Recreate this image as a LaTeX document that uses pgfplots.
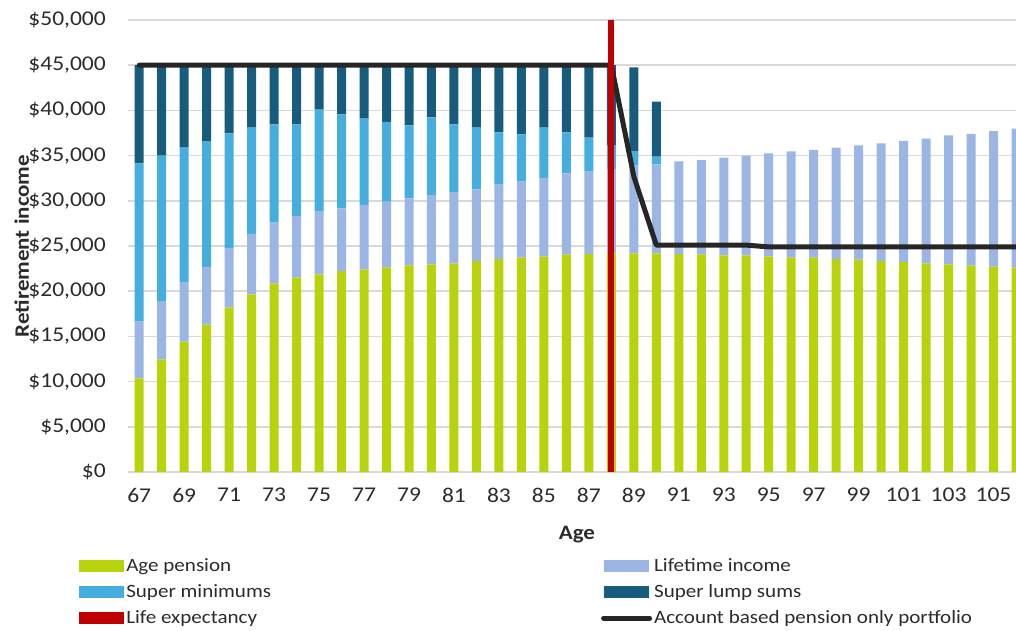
\documentclass[border=0pt]{standalone}
\usepackage{fontspec}
\setmainfont{Carlito}[FakeStretch=1.12]
\usepackage{pgfplots}
\usepackage{pgfplotstable}
\pgfplotsset{compat=1.18}
\definecolor{apgreen}{HTML}{B8D30B}
\definecolor{liblue}{HTML}{9BB5E4}
\definecolor{smblue}{HTML}{45AEDE}
\definecolor{lsblue}{HTML}{175C7D}
\definecolor{lered}{HTML}{C00000}
\definecolor{abpblack}{HTML}{262626}
\definecolor{gridgray}{HTML}{D9D9D9}
\definecolor{txt}{HTML}{2B2B2B}
\pgfplotstableread{
age ap li sm ls
67 10360 6270 17510 10860
68 12460 6440 16100 10000
69 14420 6600 14860 9120
70 16300 6400 13900 8400
71 18180 6520 12760 7540
72 19650 6680 11760 6910
73 20870 6710 10880 6540
74 21500 6820 10140 6540
75 21870 6930 11280 4920
76 22230 6940 10390 5440
77 22380 7160 9550 5910
78 22640 7260 8820 6280
79 22860 7410 8080 6650
80 22970 7670 8590 5770
81 23080 7820 7560 6540
82 23340 7930 6820 6910
83 23560 8220 5790 7430
84 23710 8410 5230 7650
85 23820 8700 5570 6910
86 24080 8960 4530 7430
87 24110 9110 3760 8020
88 24190 9330 2580 8900
89 24190 9710 1600 9260
90 24190 9840 850 6090
91 24110 10260 0 0
92 24080 10430 0 0
93 23970 10800 0 0
94 23970 11020 0 0
95 23860 11390 0 0
96 23710 11760 0 0
97 23710 11910 0 0
98 23560 12320 0 0
99 23490 12650 0 0
100 23340 13020 0 0
101 23230 13390 0 0
102 23080 13790 0 0
103 22970 14270 0 0
104 22820 14570 0 0
105 22710 15010 0 0
106 22600 15380 0 0
}\bars
\pgfplotstableread{
age v
67 45000
68 45000
69 45000
70 45000
71 45000
72 45000
73 45000
74 45000
75 45000
76 45000
77 45000
78 45000
79 45000
80 45000
81 45000
82 45000
83 45000
84 45000
85 45000
86 45000
87 45000
88 45000
89 32700
90 25100
91 25100
92 25100
93 25100
94 25100
95 24900
96 24900
97 24900
98 24900
99 24900
100 24900
101 24900
102 24900
103 24900
104 24900
105 24900
106 24900
}\abp
\pgfplotstableread{
age v
88 0
88 50000
}\lifeexp
\pgfplotsset{
  swatch/.style={legend image code/.code={\fill[##1] (0pt,-6pt) rectangle (45pt,6pt);}},
  frame/.style={
    at={(128pt,158pt)}, anchor=south west,
    scale only axis, width=888pt, height=452pt,
    xmin=66.5, xmax=106,
    ymin=0, ymax=50000,
  },
}
\begin{document}
\begin{tikzpicture}
\useasboundingbox (0,0) rectangle (1016pt,630pt);
\begin{axis}[
  frame,
  ybar stacked, bar width=9pt,
  xtick={67,69,...,105},
  ytick={0,5000,...,50000},
  scaled y ticks=false,
  /pgf/number format/assume math mode=true,
  yticklabel={\$\pgfmathprintnumber[1000 sep={,}]{\tick}},
  xticklabel={\pgfmathprintnumber{\tick}},
  ymajorgrids,
  grid style={draw=gridgray, line width=1.6pt},
  axis line style={draw=none},
  tick style={draw=none},
  ticklabel style={font=\fontsize{21}{25}\selectfont, text=txt},
  yticklabel style={inner sep=0pt, xshift=-22pt},
  xticklabel style={inner sep=0pt, yshift=-16pt},
  xlabel={Age},
  xlabel style={at={(axis description cs:0.5056,-0.1504)}, anchor=base, font=\fontsize{20.5}{24}\selectfont\bfseries, text=txt},
  ylabel={Retirement income},
  ylabel style={at={(axis description cs:-0.1115,0.5)}, anchor=base, font=\fontsize{20.5}{24}\selectfont\bfseries, text=txt},
]
\addplot[fill=apgreen, draw=none] table[x=age, y=ap] {\bars};
\addplot[fill=liblue, draw=none] table[x=age, y=li] {\bars};
\addplot[fill=smblue, draw=none] table[x=age, y=sm] {\bars};
\addplot[fill=lsblue, draw=none] table[x=age, y=ls] {\bars};
\end{axis}
\begin{axis}[
  frame,
  hide axis,
  legend columns=2,
  legend cell align=left,
  legend style={at={(axis description cs:-0.0585,-0.1825)}, anchor=north west,
    draw=none, fill=none, font=\fontsize{18.8}{22}\selectfont, text=txt,
    inner xsep=3pt, inner ysep=2pt, nodes={inner sep=2pt},
    /tikz/row sep=7.5pt,
    /tikz/every even column/.append style={column sep=328pt}},
]
\addlegendimage{fill=apgreen, draw=none, swatch}
\addlegendentry{Age pension}
\addlegendimage{fill=liblue, draw=none, swatch}
\addlegendentry{Lifetime income}
\addlegendimage{fill=smblue, draw=none, swatch}
\addlegendentry{Super minimums}
\addlegendimage{fill=lsblue, draw=none, swatch}
\addlegendentry{Super lump sums}
\addlegendimage{fill=lered, draw=none, swatch}
\addlegendentry{Life expectancy}
\addplot[sharp plot, no marks, draw=abpblack, line width=5pt, line cap=round, line join=round,
  legend image code/.code={\draw[abpblack, line width=5pt, line cap=round] (0pt,0pt) -- (46pt,0pt);}]
  table[x=age, y=v] {\abp};
\addlegendentry{Account based pension only portfolio}
\addplot[sharp plot, no marks, draw=lered, line width=6pt, forget plot]
  table[x=age, y=v] {\lifeexp};
\end{axis}
\end{tikzpicture}
\end{document}
